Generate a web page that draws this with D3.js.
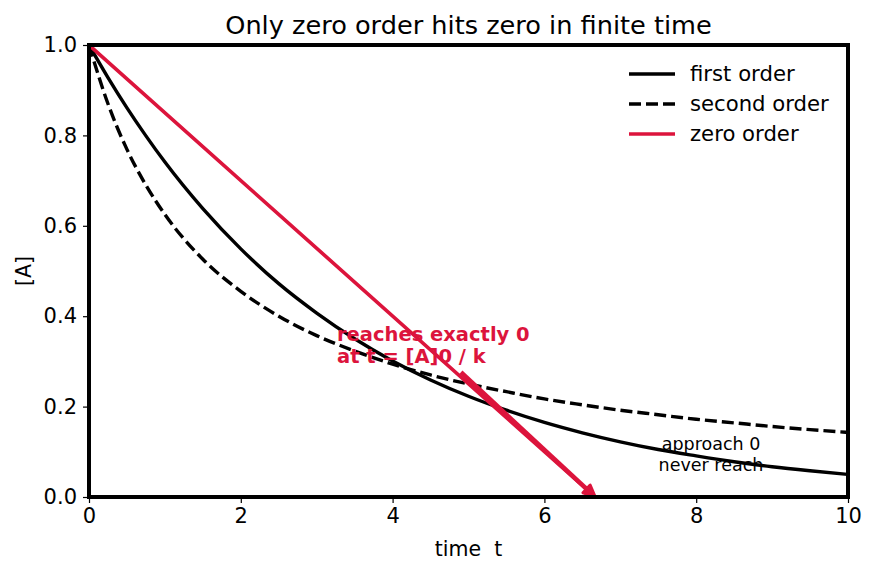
<!DOCTYPE html>
<html>
<head>
<meta charset="utf-8">
<script src="https://cdn.jsdelivr.net/npm/d3@7"></script>
<style>
  body { margin: 0; background: #fff; }
  text { font-family: "DejaVu Sans", sans-serif; }
</style>
</head>
<body>
<svg id="chart" width="876" height="573"></svg>
<script>
// values
const times = [0, 0.25, 0.5, 0.75, 1, 1.5, 2, 2.5, 3, 3.5, 4, 4.5, 5, 5.5, 6, 6.5, 7, 7.5, 8, 8.5, 9, 9.5, 10];
const firstOrder = [1, 0.928, 0.861, 0.799, 0.741, 0.638, 0.549, 0.472, 0.407, 0.350, 0.301, 0.259, 0.223, 0.192, 0.165, 0.142, 0.122, 0.105, 0.091, 0.078, 0.067, 0.058, 0.050];
const secondOrder = [1, 0.870, 0.769, 0.690, 0.625, 0.526, 0.455, 0.400, 0.357, 0.323, 0.294, 0.270, 0.250, 0.233, 0.217, 0.204, 0.192, 0.182, 0.172, 0.164, 0.156, 0.149, 0.143];
const zeroTimes = [0, 6.67, 10];
const zeroOrder = [1, 0, 0];
const xTicks = [0, 2, 4, 6, 8, 10];
const yTicks = [0.0, 0.2, 0.4, 0.6, 0.8, 1.0];
const arrowFrom = [4.9, 0.276];
const arrowTo = [6.67, 0];

const red = "#dc143c";
const svg = d3.select("#chart");
const pL = 89, pR = 848, pT = 45, pB = 497;

const x = d3.scaleLinear().domain([0, 10]).range([pL, pR]);
const y = d3.scaleLinear().domain([0, 1]).range([pB, pT]);

// axes
svg.append("g")
    .attr("transform", `translate(0,${pB})`)
    .call(d3.axisBottom(x).tickValues(xTicks).tickFormat(d3.format("d")).tickSize(6).tickPadding(5))
    .call(g => g.select(".domain").remove())
    .call(g => g.selectAll("line").attr("stroke-width", 1.2))
    .call(g => g.selectAll("text").attr("font-size", 21).attr("fill", "#000"));

svg.append("g")
    .attr("transform", `translate(${pL},0)`)
    .call(d3.axisLeft(y).tickValues(yTicks).tickFormat(d3.format(".1f")).tickSize(6).tickPadding(6))
    .call(g => g.select(".domain").remove())
    .call(g => g.selectAll("line").attr("stroke-width", 1.2))
    .call(g => g.selectAll("text").attr("font-size", 21).attr("fill", "#000"));

svg.append("clipPath").attr("id", "clip")
    .append("rect").attr("x", pL).attr("y", pT).attr("width", pR - pL).attr("height", pB - pT);

const plot = svg.append("g").attr("clip-path", "url(#clip)");

const line = d3.line().x(d => x(d[0])).y(d => y(d[1])).curve(d3.curveMonotoneX);
const straight = d3.line().x(d => x(d[0])).y(d => y(d[1]));

plot.append("path")
    .datum(times.map((t, i) => [t, firstOrder[i]]))
    .attr("d", line)
    .attr("fill", "none").attr("stroke", "#000").attr("stroke-width", 3.4);

plot.append("path")
    .datum(times.map((t, i) => [t, secondOrder[i]]))
    .attr("d", line)
    .attr("fill", "none").attr("stroke", "#000").attr("stroke-width", 3.4)
    .attr("stroke-dasharray", "12,5");

plot.append("path")
    .datum(zeroTimes.map((t, i) => [t, zeroOrder[i]]))
    .attr("d", straight)
    .attr("fill", "none").attr("stroke", red).attr("stroke-width", 3.6);

// annotation arrow
const ax1 = x(arrowFrom[0]), ay1 = y(arrowFrom[1]);
const ax2 = x(arrowTo[0]), ay2 = y(arrowTo[1]);
const ang = Math.atan2(ay2 - ay1, ax2 - ax1);
const hl = 13, hw = 0.42;
const bx = ax2 - hl * 0.8 * Math.cos(ang), by = ay2 - hl * 0.8 * Math.sin(ang);
svg.append("line")
    .attr("x1", ax1).attr("y1", ay1).attr("x2", bx).attr("y2", by)
    .attr("stroke", red).attr("stroke-width", 4.5).attr("stroke-linecap", "butt");
svg.append("path")
    .attr("d", `M${ax2 - hl * Math.cos(ang - hw)},${ay2 - hl * Math.sin(ang - hw)} L${ax2},${ay2} L${ax2 - hl * Math.cos(ang + hw)},${ay2 - hl * Math.sin(ang + hw)}Z`)
    .attr("fill", red).attr("stroke", red).attr("stroke-width", 3).attr("stroke-linejoin", "round");

svg.append("text").attr("x", 337).attr("y", 341)
    .attr("font-size", 19.5).attr("font-weight", "bold").attr("fill", red)
    .text("reaches exactly 0");
svg.append("text").attr("x", 337).attr("y", 363)
    .attr("font-size", 19.5).attr("font-weight", "bold").attr("fill", red)
    .text("at t = [A]0 / k");

svg.append("text").attr("x", 711).attr("y", 450).attr("text-anchor", "middle")
    .attr("font-size", 17.5).attr("fill", "#000").text("approach 0");
svg.append("text").attr("x", 711).attr("y", 471).attr("text-anchor", "middle")
    .attr("font-size", 17.5).attr("fill", "#000").text("never reach");

// frame
svg.append("rect")
    .attr("x", pL).attr("y", pT).attr("width", pR - pL).attr("height", pB - pT)
    .attr("fill", "none").attr("stroke", "#000").attr("stroke-width", 4);

// legend
const legendItems = [
  { label: "first order", color: "#000", dash: null },
  { label: "second order", color: "#000", dash: "12,5" },
  { label: "zero order", color: red, dash: null }
];
const lg = svg.append("g");
legendItems.forEach((d, i) => {
  const yy = 74 + i * 30;
  lg.append("line").attr("x1", 629).attr("x2", 675).attr("y1", yy).attr("y2", yy)
    .attr("stroke", d.color).attr("stroke-width", 3.4).attr("stroke-dasharray", d.dash);
  lg.append("text").attr("x", 690).attr("y", yy + 7).attr("font-size", 21.2).attr("fill", "#000").text(d.label);
});

// titles
svg.append("text").attr("x", (pL + pR) / 2).attr("y", 34).attr("text-anchor", "middle")
    .attr("font-size", 25.6).attr("fill", "#000").text("Only zero order hits zero in finite time");
svg.append("text").attr("x", (pL + pR) / 2).attr("y", 556).attr("text-anchor", "middle")
    .attr("font-size", 20.5).attr("fill", "#000").style("white-space", "pre").text("time  t");
svg.append("text").attr("transform", `translate(31,${(pT + pB) / 2}) rotate(-90)`).attr("text-anchor", "middle")
    .attr("font-size", 20.5).attr("fill", "#000").text("[A]");
</script>
</body>
</html>
